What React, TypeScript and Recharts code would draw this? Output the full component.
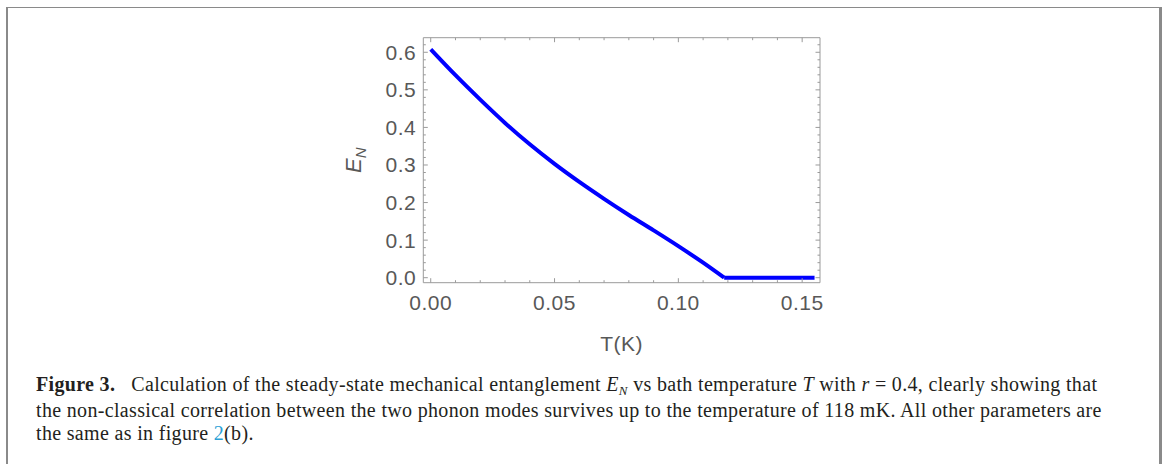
import React from "react";
import { Label, Line, LineChart, XAxis, YAxis } from "recharts";

// E_N vs bath temperature
const temperature = [0, 0.01, 0.02, 0.03, 0.04, 0.05, 0.06, 0.07, 0.08, 0.09, 0.1, 0.11, 0.1185, 0.155];
const entanglement = [0.608, 0.539, 0.474, 0.412, 0.355, 0.303, 0.255, 0.210, 0.167, 0.126, 0.084, 0.040, 0, null];
// after ~118 mK the entanglement stays at zero
const entanglementZero = [null, null, null, null, null, null, null, null, null, null, null, null, 0, 0];

const xMajorTicks = [0, 0.05, 0.1, 0.15];
const xMajorLabels = ["0.00", "0.05", "0.10", "0.15"];
const xMinorTicks = [0.01, 0.02, 0.03, 0.04, 0.06, 0.07, 0.08, 0.09, 0.11, 0.12, 0.13, 0.14];

const yMajorTicks = [0, 0.1, 0.2, 0.3, 0.4, 0.5, 0.6];
const yMajorLabels = ["0.0", "0.1", "0.2", "0.3", "0.4", "0.5", "0.6"];
const yMinorTicks = [
  0.02, 0.04, 0.06, 0.08, 0.12, 0.14, 0.16, 0.18, 0.22, 0.24, 0.26, 0.28, 0.32, 0.34, 0.36, 0.38,
  0.42, 0.44, 0.46, 0.48, 0.52, 0.54, 0.56, 0.58, 0.62,
];

const data = temperature.map((t, i) => ({ t, en: entanglement[i], zero: entanglementZero[i] }));

const FRAME = "#9a9a9a";
const TEXT = "#585858";
const FONT = "'Liberation Sans', Arial, sans-serif";

function labelFor(v: number, majors: number[], labels: string[]) {
  const i = majors.findIndex((m) => Math.abs(m - v) < 1e-9);
  return i >= 0 ? labels[i] : null;
}

function makeTick(side: "bottom" | "top" | "left" | "right") {
  return (props: any) => {
    const { x, y, payload } = props;
    const isX = side === "bottom" || side === "top";
    const label = isX
      ? labelFor(payload.value, xMajorTicks, xMajorLabels)
      : labelFor(payload.value, yMajorTicks, yMajorLabels);
    const len = label ? 4.5 : 2.5;
    let line;
    if (side === "bottom") line = <line x1={x} x2={x} y1={y} y2={y - len} stroke={FRAME} />;
    else if (side === "top") line = <line x1={x} x2={x} y1={y} y2={y + len} stroke={FRAME} />;
    else if (side === "left") line = <line x1={x} x2={x + len} y1={y} y2={y} stroke={FRAME} />;
    else line = <line x1={x} x2={x - len} y1={y} y2={y} stroke={FRAME} />;
    return (
      <g>
        {line}
        {label && side === "bottom" && (
          <text x={x} y={y + 27.5} textAnchor="middle" fill={TEXT} fontSize={21} fontFamily={FONT} letterSpacing={0.5}>
            {label}
          </text>
        )}
        {label && side === "left" && (
          <text x={x - 7} y={y + 7.5} textAnchor="end" fill={TEXT} fontSize={21} fontFamily={FONT} letterSpacing={0.5}>
            {label}
          </text>
        )}
      </g>
    );
  };
}

const xLabel = (props: any) => {
  const vb = props.viewBox;
  return (
    <text x={vb.x + vb.width / 2} y={351} textAnchor="middle" fill={TEXT} fontSize={21} fontFamily={FONT} letterSpacing={0.5}>
      T(K)
    </text>
  );
};

const yLabel = (props: any) => {
  const vb = props.viewBox;
  const cy = vb.y + vb.height / 2;
  return (
    <text transform={`translate(361, ${cy}) rotate(-90)`} textAnchor="middle" fill={TEXT} fontSize={22} fontFamily={FONT}>
      <tspan fontStyle="italic">E</tspan>
      <tspan fontStyle="italic" fontSize={15} dy={5}>N</tspan>
    </text>
  );
};

export default function App() {
  const allX = [...xMajorTicks, ...xMinorTicks].sort((a, b) => a - b);
  const allY = [...yMajorTicks, ...yMinorTicks].sort((a, b) => a - b);
  return (
    <div style={{ position: "absolute", left: 0, top: 0, width: 1163, height: 464, background: "#fff", overflow: "hidden" }}>
      <div
        style={{
          position: "absolute",
          left: 6,
          top: 7,
          width: 1151,
          height: 470,
          borderTop: "1px solid #8a8a8a",
          borderLeft: "2px solid #8a8a8a",
          borderRight: "3px solid #8a8a8a",
        }}
      />
      <div style={{ position: "absolute", left: 0, top: 0 }}>
        <LineChart width={1163} height={360} data={data} margin={{ top: 27.7, right: 333, bottom: 7.3, left: 363.3 }}>
          <XAxis
            xAxisId="b"
            dataKey="t"
            type="number"
            domain={[-0.003, 0.1572]}
            allowDataOverflow
            ticks={allX}
            interval={0}
            tickSize={0}
            tickMargin={0}
            tickLine={false}
            axisLine={{ stroke: FRAME }}
            tick={makeTick("bottom")}
            height={70}
          >
            <Label content={xLabel} />
          </XAxis>
          <XAxis
            xAxisId="t"
            orientation="top"
            dataKey="t"
            type="number"
            domain={[-0.003, 0.1572]}
            allowDataOverflow
            ticks={allX}
            interval={0}
            tickSize={0}
            tickMargin={0}
            tickLine={false}
            axisLine={{ stroke: FRAME }}
            tick={makeTick("top")}
            height={10}
          />
          <YAxis
            yAxisId="l"
            type="number"
            domain={[-0.0133, 0.6388]}
            allowDataOverflow
            ticks={allY}
            interval={0}
            tickSize={0}
            tickMargin={0}
            tickLine={false}
            axisLine={{ stroke: FRAME }}
            tick={makeTick("left")}
            width={60}
          >
            <Label content={yLabel} />
          </YAxis>
          <YAxis
            yAxisId="r"
            orientation="right"
            type="number"
            domain={[-0.0133, 0.6388]}
            allowDataOverflow
            ticks={allY}
            interval={0}
            tickSize={0}
            tickMargin={0}
            tickLine={false}
            axisLine={{ stroke: FRAME }}
            tick={makeTick("right")}
            width={10}
          />
          <Line
            xAxisId="b"
            yAxisId="l"
            dataKey="en"
            type="monotone"
            stroke="#0000ff"
            strokeWidth={4}
            dot={false}
            isAnimationActive={false}
          />
          <Line
            xAxisId="b"
            yAxisId="l"
            dataKey="zero"
            type="linear"
            stroke="#0000ff"
            strokeWidth={4}
            dot={false}
            isAnimationActive={false}
          />
        </LineChart>
      </div>
      <div
        style={{
          position: "absolute",
          left: 36,
          top: 373,
          fontFamily: "'Liberation Serif', 'Times New Roman', serif",
          fontSize: 20,
          letterSpacing: 0.33,
          lineHeight: "23.5px",
          color: "#231f20",
          whiteSpace: "nowrap",
        }}
      >
        <div>
          <b>Figure 3.</b>&nbsp;&nbsp; Calculation of the steady-state mechanical entanglement <i>E</i>
          <span style={{ fontSize: 13, position: "relative", top: 4 }}>
            <i>N</i>
          </span>{" "}
          vs bath temperature <i>T</i> with <i>r</i> = 0.4, clearly showing that
        </div>
        <div>
          the non-classical correlation between the two phonon modes survives up to the temperature of 118 mK. All other parameters are
        </div>
        <div>
          the same as in figure <span style={{ color: "#2a9fd6" }}>2</span>(b).
        </div>
      </div>
    </div>
  );
}
